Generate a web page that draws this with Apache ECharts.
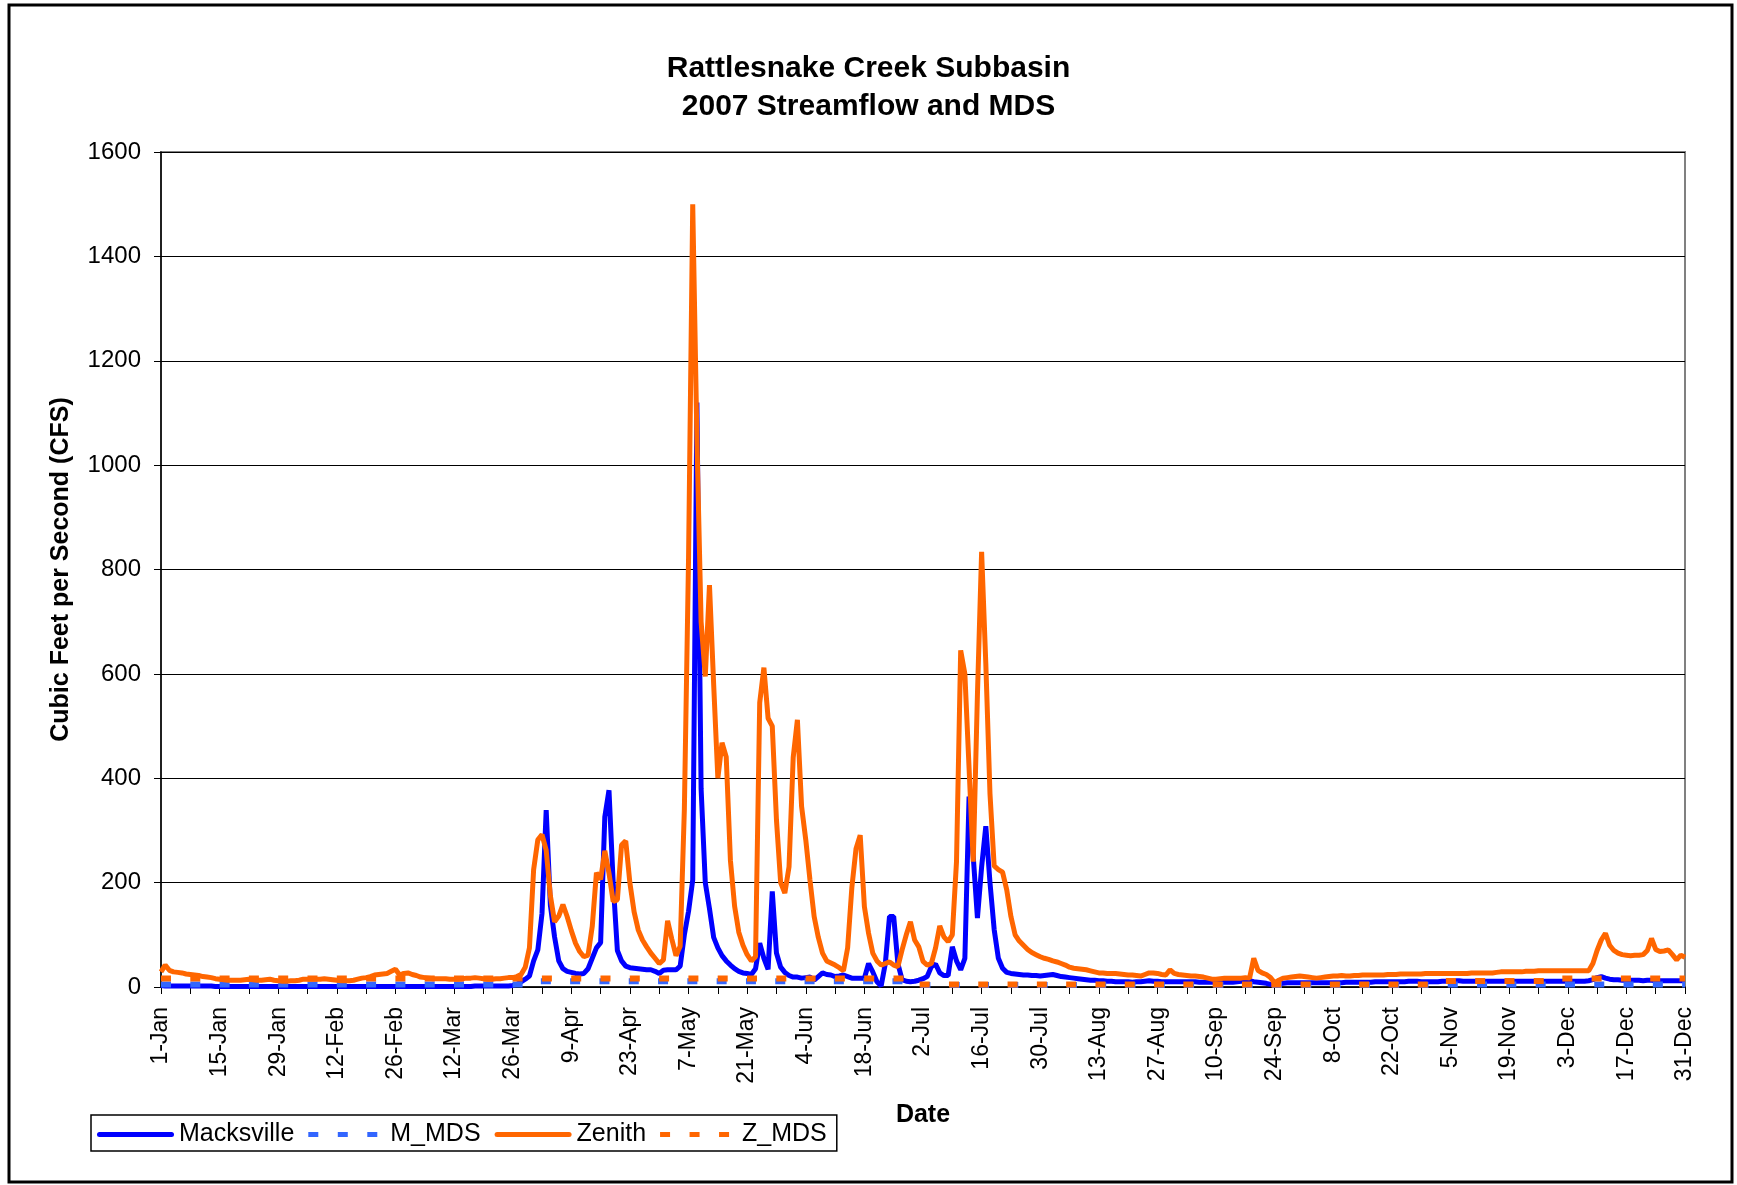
<!DOCTYPE html>
<html><head><meta charset="utf-8">
<script src="https://cdn.jsdelivr.net/npm/echarts@6/dist/echarts.min.js"></script>
<style>html,body{margin:0;padding:0;background:#fff}#c{width:1737px;height:1185px}</style>
</head><body><div id="c"></div>
<script>
const monthNames = ['Jan','Feb','Mar','Apr','May','Jun','Jul','Aug','Sep','Oct','Nov','Dec'];
const monthDays = [31,28,31,30,31,30,31,31,30,31,30,31];

// Macksville daily streamflow (CFS), by month
const mackJan = [3,2,2,2,2,2,2,2,2,2, 2,2,2,1,1,1,1,1,1,1, 1,1,1,1,1,1,1,1,1,1, 1];
const mackFeb = [1,1,1,1,1,1,1,1,1,1, 1,1,1,1,1,1,1,1,1,1, 1,1,1,1,1,1,1,1];
const mackMar = [1,1,1,1,1,1,1,1,1,1, 1,1,1,1,1,1,2,2,2,2, 2,2,2,2,2,3,5,10,15,21, 50];
const mackApr = [71,141,339,157,96,50,35,30,28,26, 25,26,35,55,75,85,326,377,200,70, 50,40,37,36,35,34,33,33,30,26];
const mackMay = [32,33,33,33,40,100,145,205,1120,380, 200,150,95,75,60,50,42,35,30,27, 26,24,35,84,55,34,183,65,38,28, 22];
const mackJun = [19,19,17,18,19,13,20,27,24,23, 20,21,23,20,17,17,17,17,45,29, 10,2,45,135,135,45,14,11,10,11];
const mackJul = [13,16,20,39,44,27,22,22,77,50, 33,55,365,250,132,230,308,200,110,55, 36,28,26,25,24,23,23,22,22,21,22];
const mackAug = [23,24,22,20,19,18,17,16,15,14, 13,13,12,12,11,11,10,10,10,10, 9,10,10,11,12,11,11,10,10,10,10];
const mackSep = [10,10,10,10,10,9,9,9,9,9, 9,9,9,9,10,11,13,12,10,9, 8,7,5,4,6,7,8,8,8,8];
const mackOct = [8,8,8,8,8,8,8,8,8,8, 9,9,9,9,9,9,9,10,10,10, 10,10,10,10,10,11,11,11,10,10, 10];
const mackNov = [10,10,11,11,11,12,12,11,11,11, 11,11,11,11,11,11,11,11,11,11, 11,11,11,11,11,11,11,11,11,11];
const mackDec = [11,11,11,11,11,11,11,12,14,18, 20,17,15,14,14,13,13,13,13,13, 12,13,13,12,12,12,12,12,12,12,12];

// Zenith daily streamflow (CFS), by month
const zenJan = [29,42,32,29,28,27,25,24,23,22, 20,19,18,16,15,14,13,13,13,13, 14,15,14,13,13,14,15,13,12,11, 11];
const zenFeb = [12,12,13,15,15,15,15,15,16,15, 14,13,12,12,12,13,15,17,18,20, 23,24,25,26,30,34,23,26];
const zenMar = [27,24,22,19,18,17,16,16,16,16, 15,15,15,16,17,17,18,17,16,15, 15,16,16,17,18,18,20,24,38,75, 225];
const zenApr = [282,292,262,175,125,136,158,135,108,84, 68,58,61,116,219,206,261,218,164,167, 272,280,199,144,109,90,77,65,55,45];
const zenMay = [52,127,92,60,78,340,820,1500,1050,700, 595,770,580,400,468,441,243,155,105,80, 62,50,58,545,612,515,500,320,200,180, 230];
const zenJun = [440,512,346,282,205,135,95,65,50,46, 42,37,31,75,190,265,291,154,103,65, 50,42,45,48,42,39,71,100,125,90];
const zenJul = [77,49,42,45,75,117,96,87,100,240, 645,600,420,240,560,834,620,370,232,225, 220,186,135,100,88,80,72,66,62,58,55];
const zenAug = [53,50,48,45,42,38,36,35,34,33, 31,29,27,27,26,26,26,25,24,23, 23,22,21,24,27,27,26,24,23,33,26];
const zenSep = [24,23,22,21,21,20,19,17,15,15, 16,17,17,17,17,17,18,17,55,32, 27,24,18,8,13,17,18,19,20,21];
const zenOct = [20,19,18,17,18,19,20,21,21,22, 21,21,22,22,23,23,23,23,23,23, 24,24,24,25,25,25,25,25,25,26, 26];
const zenNov = [26,26,26,26,26,26,26,26,26,27, 27,27,27,27,27,28,29,29,29,29, 29,29,30,30,30,31,31,31,31,31];
const zenDec = [31,31,31,31,31,31,31,31,45,70, 90,103,80,70,65,62,61,60,61,61, 62,70,93,72,68,69,71,62,52,61,57];

// Minimum desirable streamflow, one value per month
const mMdsMonthly = [5,5,5,11,11,11,4,4,4,4,5,5];
const zMdsMonthly = [16.5,16.5,16.5,16.5,16.5,16.5,5,5,5,5,11.5,16.5];

const yTicks = {min: 0, max: 1600, interval: 200};

const dates = [];
monthDays.forEach((n, m) => { for (let d = 1; d <= n; d++) dates.push(d + '-' + monthNames[m]); });
const macksville = [].concat(mackJan, mackFeb, mackMar, mackApr, mackMay, mackJun, mackJul, mackAug, mackSep, mackOct, mackNov, mackDec);
const zenith = [].concat(zenJan, zenFeb, zenMar, zenApr, zenMay, zenJun, zenJul, zenAug, zenSep, zenOct, zenNov, zenDec);
const mMds = [], zMds = [];
monthDays.forEach((n, m) => { for (let d = 0; d < n; d++) { mMds.push(mMdsMonthly[m]); zMds.push(zMdsMonthly[m]); } });

const FF = '"Liberation Sans", Arial, sans-serif';
const solidIcon = 'path://M2.5,0 H74.5 A2.5,2.5 0 0 1 74.5,5 H2.5 A2.5,2.5 0 0 1 2.5,0 Z';
const dashIcon = 'path://M0,0 h10 v5 h-10 Z M29.5,0 h10 v5 h-10 Z M59,0 h10 v5 h-10 Z M77,0 L77,5 L77,0 Z';

const chart = echarts.init(document.getElementById('c'), null, {renderer: 'canvas'});
chart.setOption({
  animation: false,
  backgroundColor: '#ffffff',
  textStyle: {fontFamily: FF},
  title: {
    text: 'Rattlesnake Creek Subbasin\n2007 Streamflow and MDS',
    left: 'center', top: 50, padding: 0,
    textStyle: {fontFamily: FF, fontSize: 30, fontWeight: 'bold', color: '#000', lineHeight: 37.5}
  },
  grid: {left: 161, right: 52, top: 152, bottom: 198, show: true, borderColor: '#808080', borderWidth: 2},
  legend: {
    left: 91, top: 1115, orient: 'horizontal',
    itemWidth: 77, itemHeight: 5, itemGap: 14,
    symbolKeepAspect: false,
    padding: [7, 10, 4, 6],
    borderColor: '#000', borderWidth: 1.5,
    textStyle: {fontFamily: FF, fontSize: 25, color: '#000'},
    data: [
      {name: 'Macksville', icon: solidIcon},
      {name: 'M_MDS', icon: dashIcon},
      {name: 'Zenith', icon: solidIcon},
      {name: 'Z_MDS', icon: dashIcon}
    ]
  },
  xAxis: {
    type: 'category', data: dates, boundaryGap: false,
    name: 'Date', nameLocation: 'middle', nameGap: 116,
    nameTextStyle: {fontFamily: FF, fontSize: 25, fontWeight: 'bold', color: '#000'},
    axisLine: {lineStyle: {color: '#000', width: 1.5}},
    axisTick: {show: true, interval: 6, length: 7, lineStyle: {color: '#000', width: 1}},
    axisLabel: {interval: 13, rotate: 90, fontSize: 23, margin: 20, color: '#000', fontFamily: FF},
    splitLine: {show: false}
  },
  yAxis: {
    type: 'value', min: yTicks.min, max: yTicks.max, interval: yTicks.interval,
    name: 'Cubic Feet per Second (CFS)', nameLocation: 'middle', nameGap: 87,
    nameTextStyle: {fontFamily: FF, fontSize: 25, fontWeight: 'bold', color: '#000'},
    axisLine: {show: true, lineStyle: {color: '#000', width: 1.5}},
    axisTick: {show: true, length: 7, lineStyle: {color: '#000', width: 1}},
    axisLabel: {fontSize: 24, margin: 20, color: '#000', fontFamily: FF, formatter: v => String(v)},
    splitLine: {show: true, lineStyle: {color: '#000', width: 1}}
  },
  graphic: [{
    type: 'rect', silent: true, z: 100,
    shape: {x: 9, y: 5, width: 1723, height: 1177},
    style: {fill: 'none', stroke: '#000', lineWidth: 3}
  }],
  series: [
    {name: 'Macksville', type: 'line', data: macksville, symbol: 'none', smooth: false,
     lineStyle: {color: '#0000FF', width: 5}, itemStyle: {color: '#0000FF'}, z: 2},
    {name: 'M_MDS', type: 'line', data: mMds, symbol: 'none',
     lineStyle: {color: '#3366FF', width: 6, type: [10, 19.3], cap: 'butt'}, itemStyle: {color: '#3366FF'}, z: 3},
    {name: 'Zenith', type: 'line', data: zenith, symbol: 'none', smooth: false,
     lineStyle: {color: '#FF6600', width: 5}, itemStyle: {color: '#FF6600'}, z: 4},
    {name: 'Z_MDS', type: 'line', data: zMds, symbol: 'none',
     lineStyle: {color: '#FF6600', width: 6, type: [10, 19.3], cap: 'butt'}, itemStyle: {color: '#FF6600'}, z: 5}
  ]
});
</script>
</body></html>
